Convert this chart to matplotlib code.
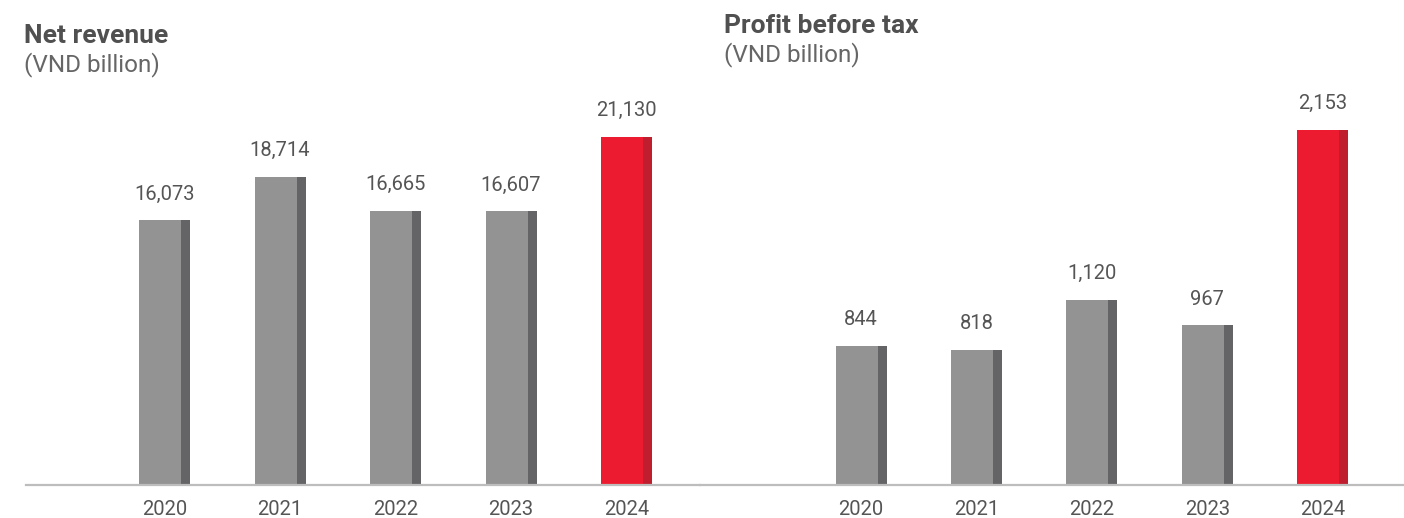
import matplotlib as mpl
import matplotlib.pyplot as plt
import numpy as np

mpl.rcParams["font.family"] = ["Roboto", "DejaVu Sans"]

# Data (VND billion)
years = ["2020", "2021", "2022", "2023", "2024"]
net_revenue = [16073, 18714, 16665, 16607, 21130]
profit_before_tax = [844, 818, 1120, 967, 2153]

FACE_GREY, SIDE_GREY = "#939394", "#646466"
FACE_RED, SIDE_RED = "#ED1B2F", "#BE1E2D"
TEXT = "#555555"

W, H = 1404, 518
fig = plt.figure(figsize=(W / 100, H / 100), dpi=100)
fig.patch.set_facecolor("white")

BASE_PX = 485  # baseline row, pixels from top


def panel(x0_px, x1_px, first_px, step_px, values, px_per_unit, title, sub, tx, ty):
    ax = fig.add_axes([x0_px / W, (H - BASE_PX) / H, (x1_px - x0_px) / W, BASE_PX / H])
    xs = np.arange(len(values))
    ax.set_xlim(-(first_px - x0_px) / step_px, (x1_px - first_px) / step_px)
    ax.set_ylim(0, BASE_PX / px_per_unit)

    # front face plus a darker strip on the right for the bevel look
    face_w, side_w = 42 / step_px, 9 / step_px
    left = xs - (face_w + side_w) / 2
    faces = [FACE_GREY] * (len(values) - 1) + [FACE_RED]
    sides = [SIDE_GREY] * (len(values) - 1) + [SIDE_RED]
    ax.bar(left, values, width=face_w, align="edge", color=faces, linewidth=0)
    ax.bar(left + face_w, values, width=side_w, align="edge", color=sides, linewidth=0)

    for x, v in zip(xs, values):
        ax.annotate(f"{v:,}", (x, v), xytext=(0, 15), textcoords="offset points",
                    ha="center", va="baseline", fontsize=14.5, color=TEXT)

    ax.set_xticks(xs)
    ax.set_xticklabels(years)
    ax.tick_params(axis="x", length=0, pad=10.5, labelsize=14.5, labelcolor=TEXT)
    ax.set_yticks([])
    for s in ["top", "left", "right"]:
        ax.spines[s].set_visible(False)
    ax.spines["bottom"].set_color("#bdbdbd")
    ax.spines["bottom"].set_linewidth(1.6)
    ax.patch.set_alpha(0)

    fig.text(tx / W, 1 - ty / H, title, fontsize=19, fontweight="bold",
             color="#505050", va="baseline")
    fig.text(tx / W, 1 - (ty + 28) / H, sub, fontsize=17.5, color="#666666",
             va="baseline")
    return ax


panel(26, 700, 164.5, 115.5, net_revenue, 348 / 21130,
      "Net revenue", "(VND billion)", 24, 43)
panel(700, 1404, 861, 115.4, profit_before_tax, 0.165,
      "Profit before tax", "(VND billion)", 724, 33)

fig.savefig("out.png", dpi=100)
